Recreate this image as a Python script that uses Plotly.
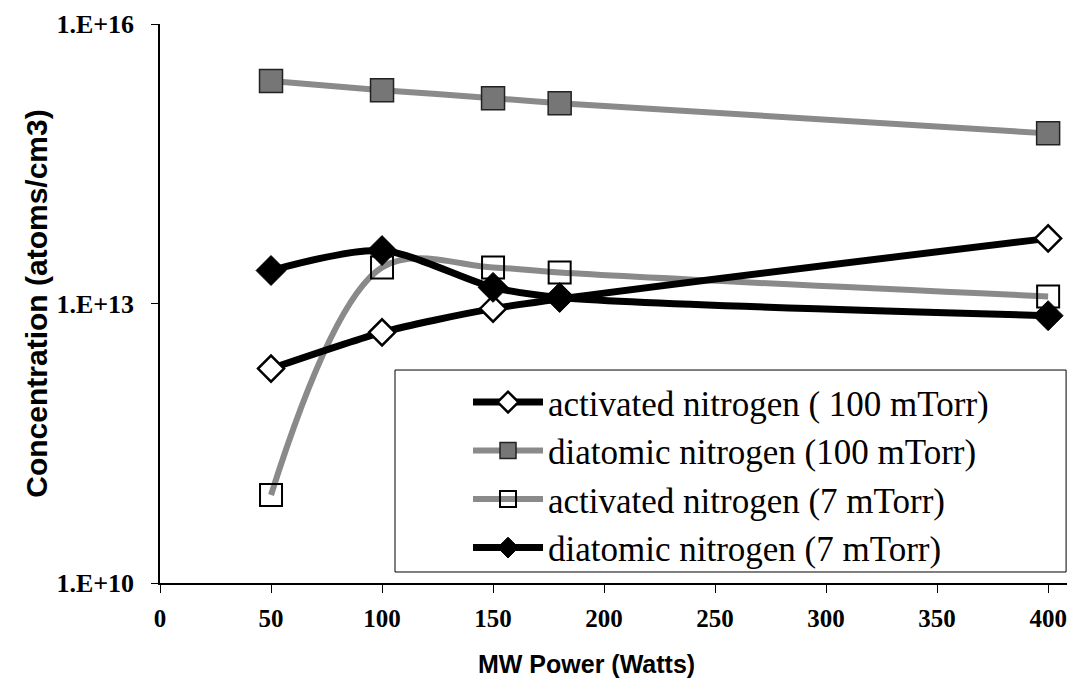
import plotly.graph_objects as go

power_full = [50, 100, 150, 180, 400]
power_act100 = [50, 100, 150, 400]

act_100 = [2.0e12, 4.9e12, 8.8e12, 5.0e13]
dia_100 = [2.44e15, 1.95e15, 1.6e15, 1.41e15, 6.7e14]
act_7 = [8.8e10, 2.44e13, 2.44e13, 2.15e13, 1.19e13]
dia_7 = [2.26e13, 3.7e13, 1.49e13, 1.16e13, 7.4e12]

names = [
    "activated nitrogen ( 100 mTorr)",
    "diatomic nitrogen (100 mTorr)",
    "activated nitrogen (7 mTorr)",
    "diatomic nitrogen (7 mTorr)",
]

y_tickvals = [1e10, 1e13, 1e16]
y_ticktext = ["1.E+10", "1.E+13", "1.E+16"]
x_tickvals = [0, 50, 100, 150, 200, 250, 300, 350, 400]

BLACK = "#000000"
GRAY = "#8a8a8a"

fig = go.Figure()
fig.add_trace(go.Scatter(
    x=power_full, y=dia_100, name=names[1], mode="lines+markers", legendrank=2,
    line=dict(color=GRAY, width=6, shape="spline", smoothing=0.6),
    marker=dict(symbol="square", size=23, color="#767676", line=dict(color="#222222", width=1.5)),
))
fig.add_trace(go.Scatter(
    x=power_full, y=act_7, name=names[2], mode="lines+markers", legendrank=3,
    line=dict(color=GRAY, width=6, shape="spline", smoothing=1.0),
    marker=dict(symbol="square-open", size=22, color=BLACK, line=dict(width=2)),
))
fig.add_trace(go.Scatter(
    x=power_act100, y=act_100, name=names[0], mode="lines+markers", legendrank=1,
    line=dict(color=BLACK, width=7, shape="spline", smoothing=0.6),
    marker=dict(symbol="diamond", size=20, color="white", line=dict(color=BLACK, width=2.5)),
))
fig.add_trace(go.Scatter(
    x=power_full, y=dia_7, name=names[3], mode="lines+markers", legendrank=4,
    line=dict(color=BLACK, width=7, shape="spline", smoothing=0.8),
    marker=dict(symbol="diamond", size=23, color=BLACK, line=dict(color=BLACK, width=1)),
))

fig.update_layout(
    width=1059, height=672,
    paper_bgcolor="white", plot_bgcolor="white",
    margin=dict(l=152, r=0, t=16, b=97),
    showlegend=True,
    legend=dict(
        x=0.3396, y=0.376, xanchor="left", yanchor="top",
        bgcolor="rgba(0,0,0,0)", borderwidth=0,
        font=dict(family="Liberation Serif", size=35, color=BLACK),
        traceorder="normal", itemwidth=70, tracegroupgap=0,
    ),
    shapes=[dict(
        type="rect", xref="paper", yref="paper",
        x0=0.2591, x1=0.999, y0=0.0197, y1=0.381,
        line=dict(color=BLACK, width=1), fillcolor="white", layer="below",
    )],
    annotations=[dict(
        text="<b>MW Power (Watts)</b>", xref="paper", yref="paper",
        x=0.4697, y=-0.145, xanchor="center", yanchor="middle", showarrow=False,
        font=dict(family="Liberation Sans", size=25, color=BLACK),
    )],
)
fig.update_xaxes(
    range=[0, 408.5], tickvals=x_tickvals, ticks="outside", ticklen=8, tickwidth=1,
    tickcolor=BLACK, showline=True, linecolor=BLACK, linewidth=1.5, showgrid=False, zeroline=False,
    tickfont=dict(family="Liberation Serif", size=25, color=BLACK, weight="bold"),
    ticklabelstandoff=4,
)
fig.update_yaxes(
    type="log", range=[10, 16], tickvals=y_tickvals, ticktext=y_ticktext, ticks="outside",
    ticklen=7, tickwidth=1, tickcolor=BLACK, showline=True, linecolor=BLACK, linewidth=1.5,
    showgrid=False, zeroline=False,
    tickfont=dict(family="Liberation Serif", size=26, color=BLACK, weight="bold"),
    ticklabelstandoff=12,
    title=dict(text="<b>Concentration (atoms/cm3)</b>", font=dict(family="Liberation Sans", size=30, color=BLACK), standoff=0),
)

fig.write_html("out.html")
